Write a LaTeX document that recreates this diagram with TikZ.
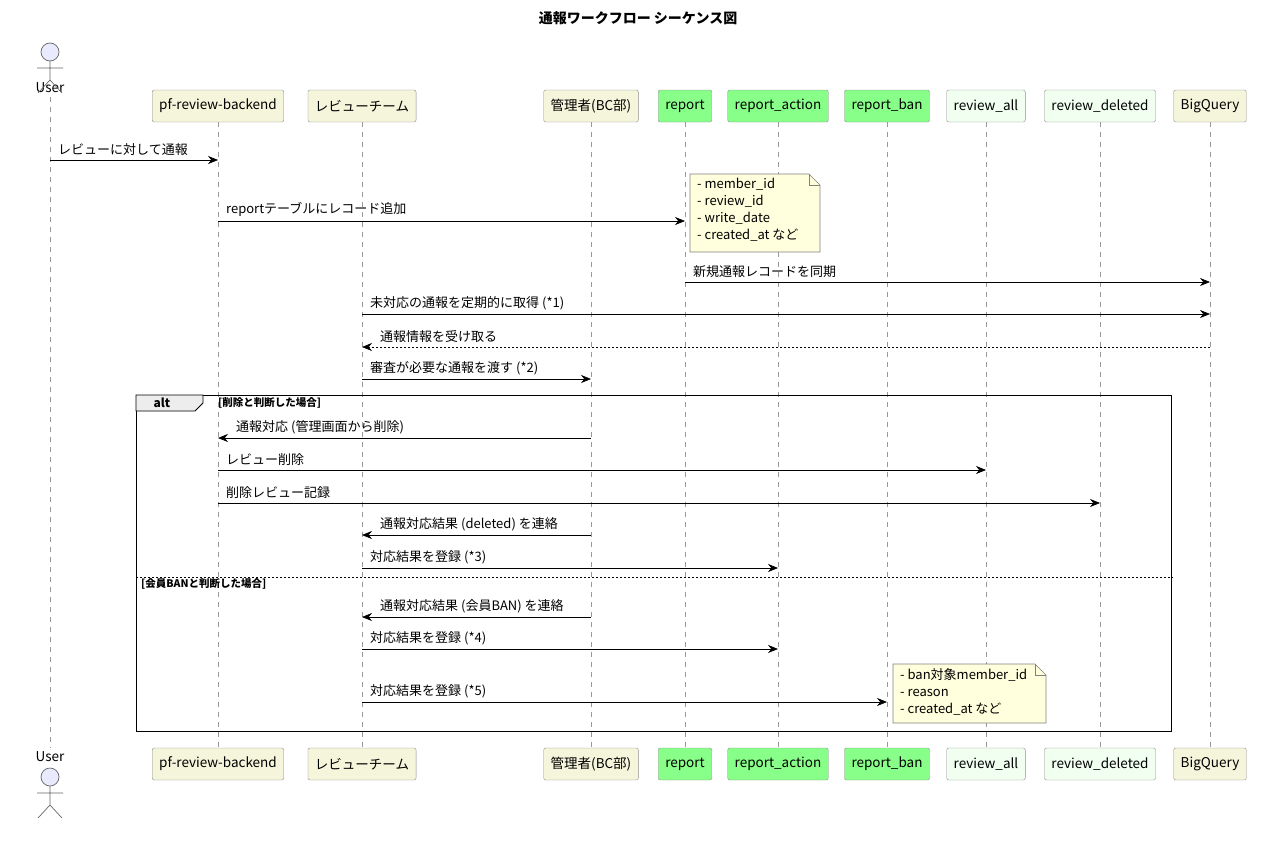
\documentclass[tikz,border=0pt]{standalone}
\usepackage{fontspec}
\setmainfont{Noto Sans CJK JP}
\usetikzlibrary{positioning, arrows.meta, shapes.misc}
\definecolor{partbg}{HTML}{F5F5DC}
\definecolor{partgreen}{HTML}{88FF88}
\definecolor{partmint}{HTML}{F0FFF0}
\definecolor{notebg}{HTML}{FFFFDD}
\definecolor{lifegray}{HTML}{999999}

\tikzset{
    part/.style={draw=black!45, rounded corners=2pt, fill=partbg, minimum height=32pt, inner xsep=7pt, font=\fontsize{13.5}{15}\selectfont},
    lifeline/.style={draw=lifegray, dash pattern=on 5pt off 5pt, line width=0.6pt},
    msgline/.style={-{Stealth[length=10pt, width=8pt]}, line width=0.7pt},
    msglabel/.style={inner sep=0pt, anchor=south west, font=\fontsize{13}{15}\selectfont},
    notetext/.style={align=left, inner sep=0pt, anchor=north west, font=\fontsize{13}{17}\selectfont},
    grplabel/.style={inner sep=0pt, anchor=west, font=\bfseries\fontsize{10.5}{12}\selectfont}
}

% message helpers: from, to, y, label
\newcommand{\msgright}[4]{%
  \draw[msgline] (#1 |- 0,#3) -- (#2 |- 0,#3);
  \node[msglabel] at ([xshift=8pt]#1 |- 0,#3-4) {#4};}
\newcommand{\msgleft}[4]{%
  \draw[msgline] (#1 |- 0,#3) -- (#2 |- 0,#3);
  \node[msglabel] at ([xshift=18pt]#2 |- 0,#3-4) {#4};}

\begin{document}
\begin{tikzpicture}[x=1pt, y=-1pt]
\useasboundingbox (0,0) rectangle (1276,843);

\node[font=\bfseries\fontsize{14}{16}\selectfont] (title) at (638,18) {通報ワークフロー シーケンス図};

%%%%% Participants (top)
\node[part]                    (bkT)  at (218,106) {pf-review-backend};
\node[part]                    (tmT)  at (362,106) {レビューチーム};
\node[part]                    (adT)  at (591,106) {管理者(BC部)};
\node[part, fill=partgreen]    (rpT)  at (685,106) {report};
\node[part, fill=partgreen]    (raT)  at (778,106) {report\_action};
\node[part, fill=partgreen]    (rbT)  at (887,106) {report\_ban};
\node[part, fill=partmint]     (avT)  at (986,106) {review\_all};
\node[part, fill=partmint]     (rdT)  at (1100,106) {review\_deleted};
\node[part]                    (bqT)  at (1210,106) {BigQuery};

%%%%% Participants (bottom)
\node[part]                    (bkB)  at (218,764) {pf-review-backend};
\node[part]                    (tmB)  at (362,764) {レビューチーム};
\node[part]                    (adB)  at (591,764) {管理者(BC部)};
\node[part, fill=partgreen]    (rpB)  at (685,764) {report};
\node[part, fill=partgreen]    (raB)  at (778,764) {report\_action};
\node[part, fill=partgreen]    (rbB)  at (887,764) {report\_ban};
\node[part, fill=partmint]     (avB)  at (986,764) {review\_all};
\node[part, fill=partmint]     (rdB)  at (1100,764) {review\_deleted};
\node[part]                    (bqB)  at (1210,764) {BigQuery};

% User actor
\node[font=\fontsize{13.5}{15}\selectfont, inner sep=0pt] (usT) at (50,88) {User};
\node[font=\fontsize{13.5}{15}\selectfont, inner sep=0pt] (usB) at (50,757) {User};
\begin{scope}[draw=black!60, line width=0.7pt]
  \draw[fill=partmint!30!blue!12] (50,52) circle (9);
  \draw (50,61) -- (50,80) (37,68) -- (63,68) (50,80) -- (38,93) (50,80) -- (62,93);
  \draw[fill=partmint!30!blue!12] (50,777) circle (9);
  \draw (50,786) -- (50,805) (37,793) -- (63,793) (50,805) -- (38,818) (50,805) -- (62,818);
\end{scope}

%  Lifelines
\draw[lifeline] ([yshift=-4pt]usT.south) -- ([yshift=4pt]usB.north);
\foreach \p in {bk, tm, ad, rp, ra, rb, av, rd, bq}
  \draw[lifeline] (\p T.south) -- (\p B.north);

% alt frame
\node[draw, line width=1.2pt, minimum width=1035pt, minimum height=336pt, anchor=north west, inner sep=0pt] (altbox) at (136,395) {};
\draw[fill=black!7, line width=0.8pt] (altbox.north west) -- (203,395) -- (203,403) -- (195,411) -- (136,411) -- cycle;
\node[font=\bfseries\fontsize{12}{14}\selectfont] (alttag) at (162,403) {alt};
\node[grplabel] (grp1) at (218,403) {[削除と判断した場合]};
\draw[dash pattern=on 2pt off 2pt, line width=0.7pt] (altbox.west |- 0,577) -- (altbox.east |- 0,577);
\node[grplabel] (grp2) at (141,584) {[会員BANと判断した場合]};

%  Messages
\msgright{usT}{bkT}{160}{レビューに対して通報}
\msgright{bkT}{rpT}{221}{reportテーブルにレコード追加}
\msgright{rpT}{bqT}{282}{新規通報レコードを同期}
\msgright{tmT}{bqT}{314}{未対応の通報を定期的に取得 (*1)}
\draw[msgline, dash pattern=on 2pt off 2pt] (bqT |- 0,347) -- (tmT |- 0,347);
\node[msglabel] at ([xshift=18pt]tmT |- 0,343) {通報情報を受け取る};
\msgright{tmT}{adT}{379}{審査が必要な通報を渡す (*2)}
\msgleft{adT}{bkT}{438}{通報対応 (管理画面から削除)}
\msgright{bkT}{avT}{470}{レビュー削除}
\msgright{bkT}{rdT}{503}{削除レビュー記録}
\msgleft{adT}{tmT}{535}{通報対応結果 (deleted) を連絡}
\msgright{tmT}{raT}{568}{対応結果を登録 (*3)}
\msgleft{adT}{tmT}{617}{通報対応結果 (会員BAN) を連絡}
\msgright{tmT}{raT}{649}{対応結果を登録 (*4)}
\msgright{tmT}{rbT}{702}{対応結果を登録 (*5)}

% Notes
\draw[fill=notebg, draw=black!50, line width=0.6pt] (690,174) -- (809,174) -- (820,185) -- (820,252) -- (690,252) -- cycle;
\draw[draw=black!50, line width=0.6pt] (809,174) -- (809,185) -- (820,185);
\node[notetext] (note1) at (697,178) {- member\_id\\- review\_id\\- write\_date\\- created\_at など};

\draw[fill=notebg, draw=black!50, line width=0.6pt] (893,664) -- (1035,664) -- (1046,675) -- (1046,723) -- (893,723) -- cycle;
\draw[draw=black!50, line width=0.6pt] (1035,664) -- (1035,675) -- (1046,675);
\node[notetext] (note2) at (900,668) {- ban対象member\_id\\- reason\\- created\_at など};

\end{tikzpicture}
\end{document}
